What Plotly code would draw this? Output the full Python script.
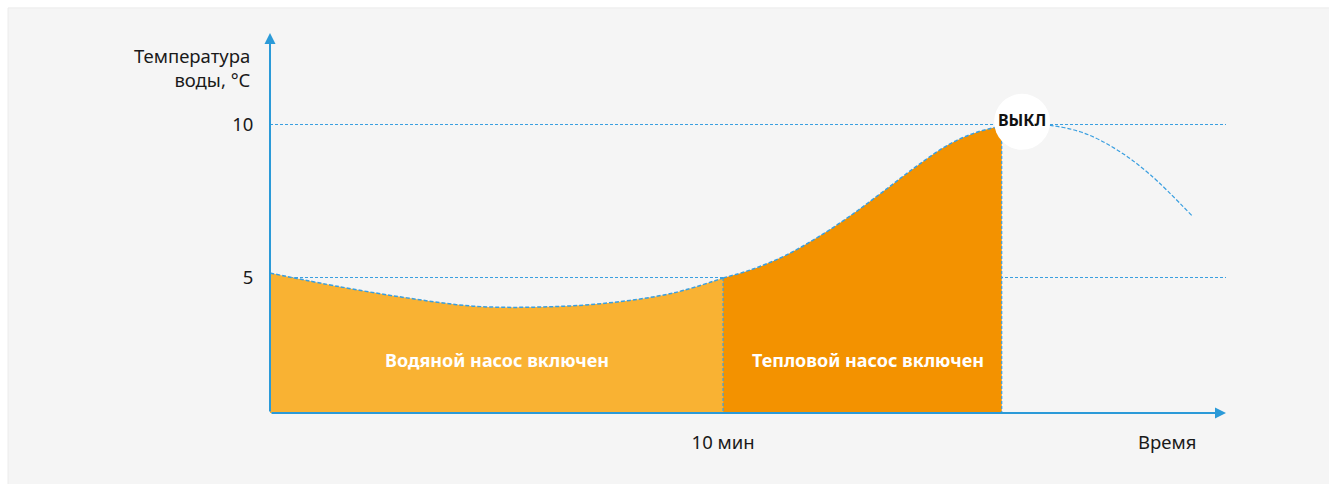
import plotly.graph_objects as go

# Water temperature curve, minutes vs °C
time_min = [0.0, 1.55, 3.02, 4.48, 5.96, 7.44, 8.90, 10.0,
            10.60, 11.33, 12.07, 12.80, 13.54, 14.28, 15.01, 15.60, 16.15,
            16.6, 17.22, 17.95, 18.70, 19.43, 20.35]
temp_c = [5.16, 4.71, 4.35, 4.08, 4.05, 4.18, 4.51, 5.0,
          5.26, 5.70, 6.31, 7.02, 7.83, 8.66, 9.38, 9.76, 9.96,
          10.0, 9.98, 9.74, 9.18, 8.37, 7.03]

water_pump_end = 10.0      # water pump runs until 10 min
heat_pump_end = 16.15      # heat pump switches off here
off_point = (16.6, 10.1)   # "ВЫКЛ" marker

phase_labels = ["Водяной насос включен", "Тепловой насос включен"]
phase_label_x = [5.0, 13.2]
phase_label_y = 2.32

y_ticks = [5, 10]
y_tick_text = ["5", "10"]
x_ticks = [10]
x_tick_text = ["10 мин"]

x_range = [0, 21.1]
y_range = [0.59, 13.0]

AXIS = "#2b9ad8"
CURVE = "#3a9fe0"
LIGHT = "#F9B233"
DARK = "#F39200"
FONT = "Noto Sans"
TEXT = "#1a1a1a"
DASH = "4px,2px"
FS = 18.5

def segment(lo, hi):
    xs, ys = [], []
    for t, v in zip(time_min, temp_c):
        if lo <= t <= hi:
            xs.append(t)
            ys.append(v)
    return xs, ys

fig = go.Figure()

x1, y1 = segment(0, water_pump_end)
x2, y2 = segment(water_pump_end, heat_pump_end)
x3, y3 = segment(heat_pump_end, max(time_min))

fig.add_trace(go.Scatter(x=x1, y=y1, mode="lines", line=dict(color=CURVE, width=1.5, dash=DASH, shape="spline"),
                         fill="tozeroy", fillcolor=LIGHT, hoverinfo="skip"))
fig.add_trace(go.Scatter(x=x2, y=y2, mode="lines", line=dict(color=CURVE, width=1.5, dash=DASH, shape="spline"),
                         fill="tozeroy", fillcolor=DARK, hoverinfo="skip"))
fig.add_trace(go.Scatter(x=x3, y=y3, mode="lines", line=dict(color=CURVE, width=1.2, dash=DASH, shape="spline"),
                         hoverinfo="skip"))

# vertical separators between phases
for t, v in [(x1[-1], y1[-1]), (x2[-1], y2[-1])]:
    fig.add_trace(go.Scatter(x=[t, t], y=[v, 0], mode="lines",
                             line=dict(color=CURVE, width=1.2, dash="3px,2px"), hoverinfo="skip"))

# switch-off marker
fig.add_trace(go.Scatter(x=[off_point[0]], y=[off_point[1]], mode="markers+text",
                         marker=dict(size=56, color="white", line=dict(width=0)),
                         text=["<b>ВЫКЛ</b>"], textposition="middle center",
                         textfont=dict(family=FONT, size=16, color="#111111"),
                         cliponaxis=False, hoverinfo="skip"))

# phase labels
for label, lx in zip(phase_labels, phase_label_x):
    fig.add_annotation(x=lx, y=phase_label_y, text=f"<b>{label}</b>", showarrow=False,
                       font=dict(family=FONT, size=18, color="white"))

# axes with arrowheads
fig.add_annotation(x=0, y=y_range[1], ax=0, ay=y_range[0], xref="x", yref="y", axref="x", ayref="y",
                   showarrow=True, arrowhead=2, arrowsize=1.1, arrowwidth=2, arrowcolor=AXIS,
                   standoff=0, text="")
fig.add_annotation(x=x_range[1], y=y_range[0], ax=0, ay=y_range[0], xref="x", yref="y", axref="x", ayref="y",
                   showarrow=True, arrowhead=2, arrowsize=1.1, arrowwidth=2, arrowcolor=AXIS,
                   standoff=0, text="")

fig.add_annotation(x=-0.0178, y=0.908, xref="paper", yref="paper", xanchor="right", yanchor="middle",
                   align="right", showarrow=False, text="Температура<br>воды, °C",
                   font=dict(family=FONT, size=FS, color=TEXT))
fig.add_annotation(x=0.938, y=-0.076, xref="paper", yref="paper", xanchor="center", yanchor="middle",
                   showarrow=False, text="Время", font=dict(family=FONT, size=FS, color=TEXT))

# panel background
fig.add_shape(type="rect", xref="paper", yref="paper", x0=-0.274, x1=1.2, y0=-0.3, y1=1.066,
              fillcolor="#f5f5f5", line=dict(color="#ebebeb", width=1), layer="below")

fig.update_layout(
    width=1329, height=484,
    margin=dict(l=270, r=103, t=33, b=71),
    paper_bgcolor="white", plot_bgcolor="rgba(0,0,0,0)",
    showlegend=False,
    font=dict(family=FONT, size=FS, color=TEXT),
)
fig.update_xaxes(range=x_range, tickvals=x_ticks, ticktext=x_tick_text, showgrid=False, zeroline=False,
                 showline=False, ticks="outside", ticklen=13, tickcolor="rgba(0,0,0,0)",
                 tickfont=dict(family=FONT, size=FS, color=TEXT))
fig.update_yaxes(range=y_range, tickvals=y_ticks, ticktext=y_tick_text, showgrid=True, gridcolor=CURVE,
                 griddash="3px,2px", gridwidth=1, zeroline=False, showline=False,
                 ticks="outside", ticklen=12, tickcolor="rgba(0,0,0,0)",
                 tickfont=dict(family=FONT, size=FS, color=TEXT))

fig.write_html("out.html")
